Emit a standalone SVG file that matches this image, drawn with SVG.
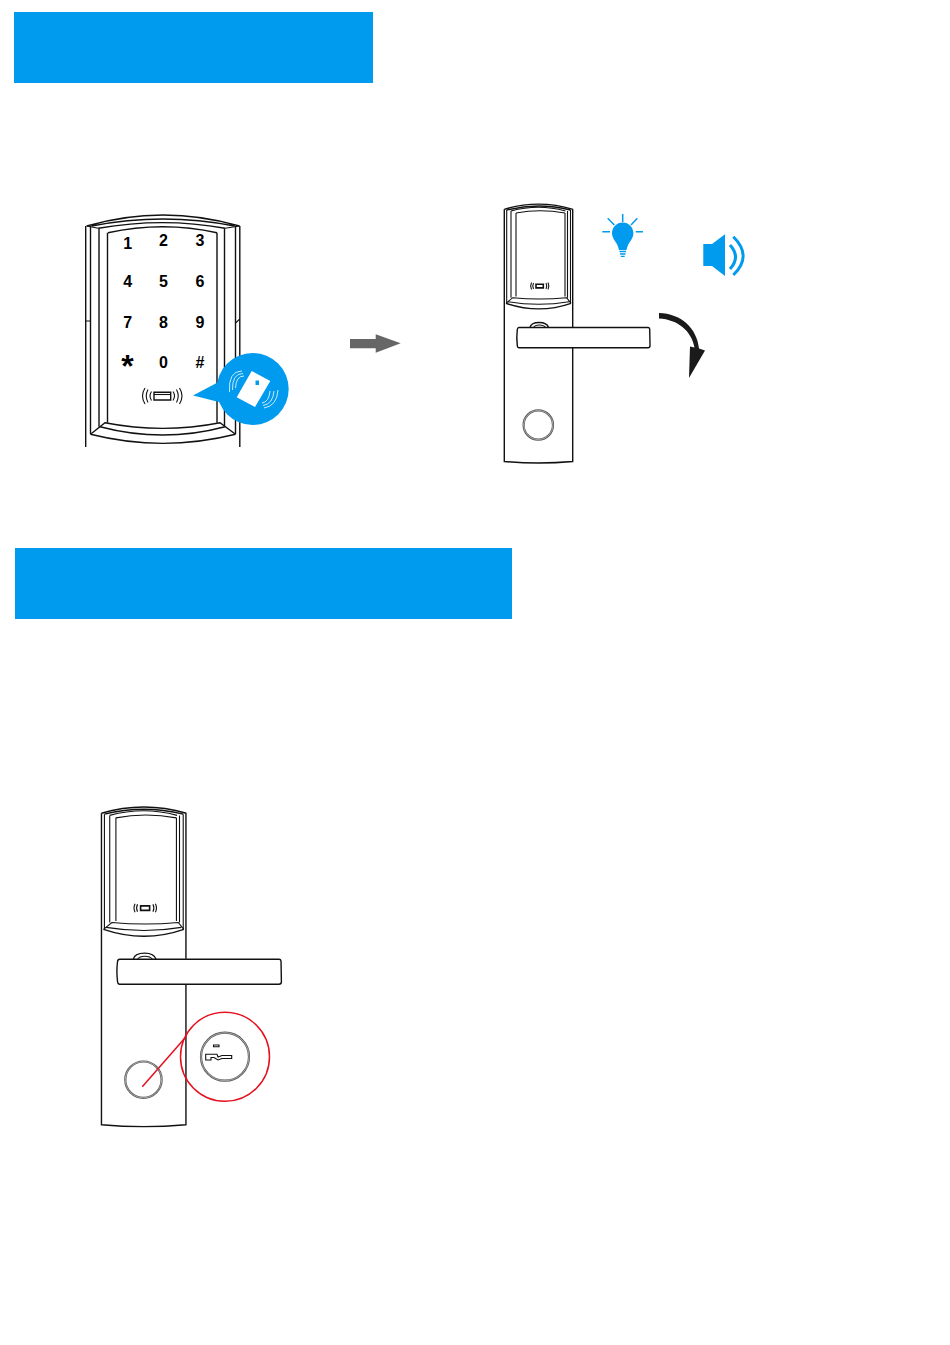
<svg xmlns="http://www.w3.org/2000/svg" width="950" height="1345" viewBox="0 0 950 1345">
<style>
.k{font:bold 16px "Liberation Sans",Arial,sans-serif;fill:#000;text-anchor:middle}
.l{fill:none;stroke:#111;stroke-width:1.4;vector-effect:non-scaling-stroke}
.t{fill:none;stroke:#111;stroke-width:1.1;vector-effect:non-scaling-stroke}
.r{fill:none;stroke:#555;stroke-width:2.2;vector-effect:non-scaling-stroke}
.ri{fill:none;stroke:#ddd;stroke-width:.6;vector-effect:non-scaling-stroke}
.b{fill:#009aee}
.bs{fill:none;stroke:#009aee}
.w{fill:none;stroke:#fff;stroke-width:.8}
.red{fill:none;stroke:#e60f1e;stroke-width:1.5}
</style>
<defs>
<g id="lock">
<path class="l" d="M504.300 209.300Q538.500 199 573 209.300"/>
<path class="l" d="M506.700 210Q538.500 202 570.500 210"/>
<path class="t" d="M511 211Q538.500 203.600 565.500 211M516 213Q540 208.400 565 213"/>
<path class="l" d="M504.300 209.300V461.500Q538.500 464.500 572.700 461.500V348M572.700 327V209.300"/>
<path class="t" d="M506.700 210V303.300M511 211V297.700M516 213V296.500M565 213V296.500M567.500 211V297.700M570.500 210V303.300"/>
<path class="t" d="M506 303.300L512.700 297.700Q539.500 300.300 566.500 297.700L571 303.300"/>
<path class="l" d="M506 303.300Q539 314.500 571 303.300"/>
<path class="t" d="M508 301.700Q539 306.800 569 301.700"/>
<path class="l" d="M530 327.500Q531 322.500 539.300 322.500Q547 322.500 548.500 327.500"/>
<path class="t" d="M533.500 327.500Q535 325 539.300 325Q544 325 545.500 327.500"/>
<path class="l" d="M519 327.500H648Q649.500 327.500 649.700 329L650 345.700Q650 347.700 648 347.700H519Q517.500 347.700 517.300 345.500Q516.300 337.500 517.300 329.500Q517.500 327.500 519 327.500Z"/>
<circle class="r" cx="538.300" cy="425" r="14.700"/><circle class="ri" cx="538.300" cy="425" r="14.700"/>
<rect class="l" x="536" y="284.300" width="7.300" height="3.600" style="stroke-width:1.600px"/>
<path class="t" d="M533.500 283Q532 286 533.500 289M531.500 282.500Q529.800 286 531.500 289.500M546 283Q547.500 286 546 289M548 282.500Q549.700 286 548 289.500"/>
</g>
</defs>
<g id="header-1"><rect class="b" x="14" y="12" width="359" height="71"/></g>
<g id="header-2"><rect class="b" x="15" y="548" width="497" height="71"/></g>
<g id="keypad">
<path class="l" d="M86.700 226Q163 204 239.500 226M91.700 226Q163 212 234.500 226M98.300 228.300Q163 217 225 228.300M108 232.700Q163 220.700 217 232.700"/>
<path class="l" d="M85.700 226V447M239.800 226V447M107.500 232.700V422.700M217 232.700V422.700M99 228.300V426.700M224.500 228.300V426.700M90.500 226V434.300M235.500 226V434.300"/>
<path class="t" d="M86.700 226L98.300 228.300M239.500 226L225 228.300M85.700 321H91M235.500 323L239.800 319"/>
<path class="l" d="M90.500 434.300L105 422.700Q163 434 220 422.700L235.500 434.300M90.500 434.300Q163 452.500 235.500 434.300M100 426.700Q163 443.300 225 426.700"/>
<text class="k" x="127.700" y="248.500">1</text><text class="k" x="163.500" y="246">2</text><text class="k" x="200" y="246">3</text>
<text class="k" x="127.700" y="287">4</text><text class="k" x="163.500" y="287">5</text><text class="k" x="200" y="287">6</text>
<text class="k" x="127.700" y="327.500">7</text><text class="k" x="163.500" y="327.500">8</text><text class="k" x="200" y="327.500">9</text>
<text class="k" x="127.500" y="376.500" style="font-size:32px">*</text><text class="k" x="163.500" y="368">0</text><text class="k" x="200" y="368">#</text>
<rect class="l" x="154" y="392.300" width="16.700" height="7.700"/><path class="t" d="M154 394.500H170.700"/>
<path class="t" d="M151.500 391.500Q148.500 396 151.500 400.500M148 389.500Q144.500 396 148 402.500M145 388Q140 396 145 404M173 391.500Q176 396 173 400.500M176.500 389.500Q180 396 176.500 402.500M179.500 388Q184.500 396 179.500 404"/>
<g id="card-bubble">
<circle class="b" cx="252.700" cy="389" r="36"/>
<path class="b" d="M193 395.500L219 381.700V402Z"/>
<path fill="#fff" d="M251.700 371L270.300 381L255 407L236.700 397.300Z"/>
<rect class="b" x="255.500" y="380.500" width="3.500" height="4.500"/>
<path class="w" d="M244 376Q236 376 235.500 388M243 373.500Q232 373.500 232.500 390M242 371Q228 371 229.500 392M262 403Q269 402 270 391M263 405.500Q273 404 274 391M264 408Q277 406 278 390"/>
</g>
</g>
<g id="gray-arrow"><path fill="#666" d="M350 339H375.700V334.300L400.700 343.300L375.700 352.700V348.300H350Z"/></g>
<g id="lock-open"><use href="#lock"/></g>
<g id="bulb">
<path class="b" d="M622.700 222.500C616.500 222.500 612 227.500 612 233.300C612 239.500 617.500 242 619 250H626.500C628 242 633.400 239.500 633.400 233.300C633.400 227.500 628.900 222.500 622.700 222.500Z"/>
<path class="bs" stroke-width="1.300" d="M619.500 251.500H626M620 254H625.500M620.800 256.300H624.700"/>
<path class="bs" stroke-width="1.500" d="M622.700 214V222M602.300 231.700H610M635.700 231.700H643M607.700 218.300L614.300 225M631 225L637.300 218.300"/>
</g>
<g id="speaker">
<path class="b" d="M703.300 244H712L725 234.300V276L712 266H703.300Z"/>
<path class="bs" stroke-width="3" d="M730 245Q741 257 730 269"/>
<path class="bs" stroke-width="3" d="M733.300 236.700Q753 256 733.300 275"/>
</g>
<g id="turn-arrow">
<path fill="#1a1a1a" d="M659 313C681 313.500 697 328 699 348.500L705 350.500L689 378L690 346.500L694.500 347.500C691.500 331 678 319.500 659 318.500Z"/>
</g>
<g id="lock-key">
<use href="#lock" transform="translate(-521.350 554.800) scale(1.235)"/>
<circle class="red" cx="225" cy="1056.700" r="44.500"/>
<path class="red" d="M142.300 1086.700L186 1036.700"/>
<circle class="r" cx="225" cy="1056.700" r="24"/><circle class="ri" cx="225" cy="1056.700" r="24"/>
<rect class="t" x="213.500" y="1045" width="5.500" height="1.700"/>
<path class="t" d="M205.700 1054.300H217L218 1057L222 1055.500H231.700V1058.500H222L218 1060L214 1057.500H211V1060H205.700Z"/>
</g>
</svg>
